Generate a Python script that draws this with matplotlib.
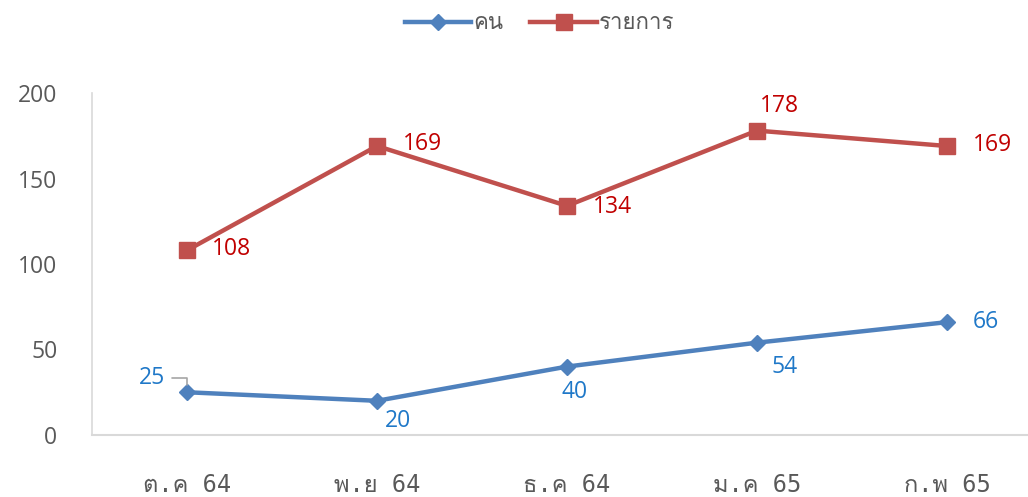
import matplotlib
matplotlib.use("Agg")
import matplotlib.pyplot as plt
from matplotlib import font_manager
from matplotlib.ft2font import FT2Font

months = ["ต.ค 64", "พ.ย 64", "ธ.ค 64", "ม.ค 65", "ก.พ 65"]
people = [25, 20, 40, 54, 66]
items = [108, 169, 134, 178, 169]
people_name = "คน"
items_name = "รายการ"

# label offsets in pixels (dx, dy) for each point
people_offsets = [(-35, 14), (21, -20), (8, -25), (28, -24), (39, 0)]
items_offsets = [(44, 1), (45, 2), (45, -1), (22, 25), (45, 1)]


# find an installed font that can draw Thai
def find_thai_font():
    for f in font_manager.fontManager.ttflist:
        try:
            if FT2Font(f.fname).get_char_index(ord("ค")):
                return f.name
        except Exception:
            pass
    return None

thai = find_thai_font()
fam = ["Open Sans", thai] if thai else ["Open Sans"]
mono = ["DejaVu Sans Mono", thai] if thai else ["DejaVu Sans Mono"]
plt.rcParams["font.family"] = fam

blue = "#4F81BD"
red = "#C0504D"
blue_txt = "#1F78C8"
red_txt = "#C00000"
grey = "#595959"

fig = plt.figure(figsize=(10.28, 4.97), dpi=100)
ax = fig.add_axes([92 / 1028, 62 / 497, 950 / 1028, 342 / 497])

x = list(range(len(months)))
ax.plot(x, people, color=blue, lw=3.2, marker="D", ms=8.5, label=people_name)
ax.plot(x, items, color=red, lw=3.2, marker="s", ms=11.5, label=items_name)

ax.set_xlim(-0.5, len(months) - 0.5)
ax.set_ylim(0, 200)
ax.set_yticks([0, 50, 100, 150, 200])
ax.set_xticks(x)
ax.set_xticklabels(months, family=mono, fontsize=17, color=grey)
ax.tick_params(axis="x", length=0, pad=27)
ax.tick_params(axis="y", length=0, pad=25, labelsize=16.5, labelcolor=grey)
for s in ["top", "right"]:
    ax.spines[s].set_visible(False)
ax.spines["left"].set_color("#D9D9D9")
ax.spines["bottom"].set_color("#D9D9D9")
ax.spines["left"].set_linewidth(1.2)
ax.spines["bottom"].set_linewidth(1.5)

for i, v in enumerate(items):
    dx, dy = items_offsets[i]
    ax.annotate(str(v), (i, v), xytext=(dx, dy), textcoords="offset pixels",
                ha="center", va="center", fontsize=16.5, color=red_txt)

for i, v in enumerate(people):
    dx, dy = people_offsets[i]
    arrow = None
    if i == 0:
        arrow = dict(arrowstyle="-", color="#A6A6A6", lw=1.2,
                     connectionstyle="angle,angleA=0,angleB=90",
                     shrinkA=3, shrinkB=5)
    ax.annotate(str(v), (i, v), xytext=(dx, dy), textcoords="offset pixels",
                ha="center", va="center", fontsize=16.5, color=blue_txt,
                arrowprops=arrow)

leg = fig.legend(loc="center", bbox_to_anchor=(0.525, 0.952), ncol=2,
                 frameon=False, fontsize=16, handlelength=3.0,
                 columnspacing=1.2, handletextpad=0.1)
for t in leg.get_texts():
    t.set_color(grey)

fig.savefig("out.png", dpi=100)
